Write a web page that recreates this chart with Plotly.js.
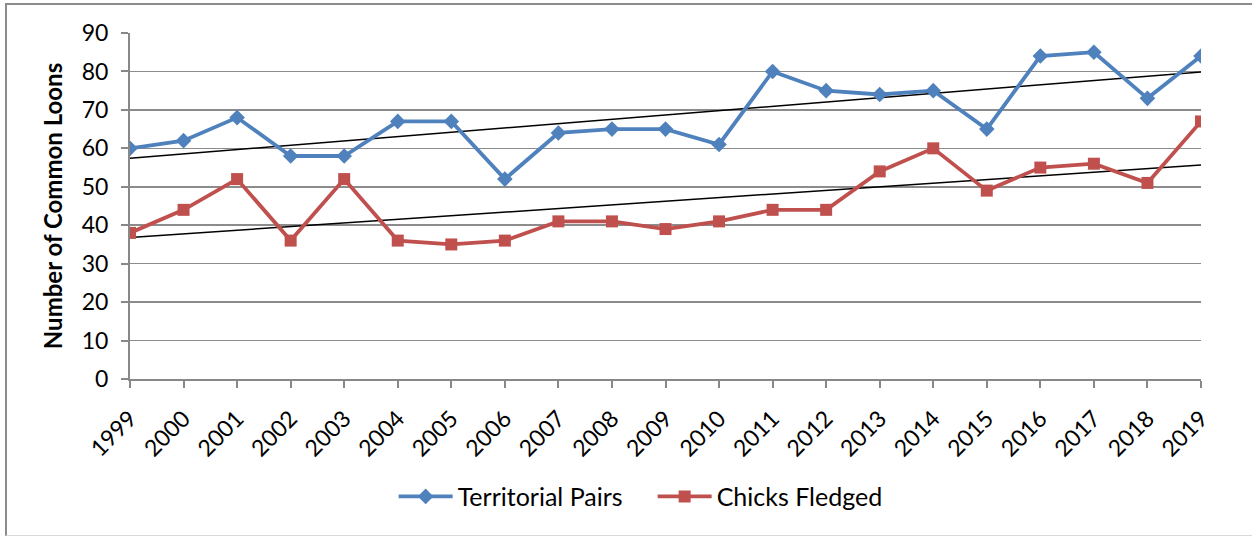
<!DOCTYPE html>
<html>
<head>
<meta charset="utf-8">
<script src="https://cdn.plot.ly/plotly-3.0.1.min.js"></script>
<style>
html,body{margin:0;padding:0;background:#fff;}
#frame{position:absolute;left:5px;top:3px;width:1260px;height:533px;border-top:2px solid #8c8c8c;border-left:2px solid #8c8c8c;border-bottom:1px solid #d9d9d9;box-sizing:border-box;}
#chart{position:absolute;left:0;top:0;width:1252px;height:538px;}
</style>
</head>
<body>
<div id="frame"></div>
<div id="chart"></div>
<script>
const years = [1999,2000,2001,2002,2003,2004,2005,2006,2007,2008,2009,2010,2011,2012,2013,2014,2015,2016,2017,2018,2019];
const territorialPairs = [60,62,68,58,58,67,67,52,64,65,65,61,80,75,74,75,65,84,85,73,84];
const chicksFledged = [38,44,52,36,52,36,35,36,41,41,39,41,44,44,54,60,49,55,56,51,67];
const yTicks = [0,10,20,30,40,50,60,70,80,90];

function linFit(xs, ys){
  const n = xs.length;
  const mx = xs.reduce((a,b)=>a+b,0)/n;
  const my = ys.reduce((a,b)=>a+b,0)/n;
  let sxy=0, sxx=0;
  for(let i=0;i<n;i++){sxy+=(xs[i]-mx)*(ys[i]-my); sxx+=(xs[i]-mx)*(xs[i]-mx);}
  const b = sxy/sxx, a = my - b*mx;
  return xs.map(x=>a+b*x);
}

const idx = years.map((y,i)=>i);
const trendPairs = linFit(idx, territorialPairs);
const trendChicks = linFit(idx, chicksFledged);

const font = "Lato, 'Open Sans', sans-serif";

const traces = [
  {x: years, y: trendPairs, mode:'lines', line:{color:'#000', width:1.5}, showlegend:false, hoverinfo:'skip'},
  {x: years, y: trendChicks, mode:'lines', line:{color:'#000', width:1.5}, showlegend:false, hoverinfo:'skip'},
  {x: years, y: territorialPairs, name:'Territorial Pairs', mode:'lines+markers',
   line:{color:'#4F81BD', width:3.8}, marker:{symbol:'diamond', size:12, color:'#4F81BD'}},
  {x: years, y: chicksFledged, name:'Chicks Fledged', mode:'lines+markers',
   line:{color:'#C0504D', width:3.8}, marker:{symbol:'square', size:12, color:'#C0504D'}}
];

const layout = {
  width:1252, height:538,
  margin:{l:130, r:51, t:33, b:159},
  paper_bgcolor:'rgba(0,0,0,0)', plot_bgcolor:'rgba(0,0,0,0)',
  font:{family:font, size:23, color:'#000'},
  xaxis:{
    range:[1999,2019], tickvals:years, ticktext:years.map(String), tickangle:-45,
    showgrid:false, zeroline:false, showline:true, linecolor:'#888', linewidth:2,
    ticks:'outside', ticklen:7, tickcolor:'#888', tickwidth:2, ticklabelstandoff:8,
    tickfont:{family:font, size:23, color:'#000'}, fixedrange:true
  },
  yaxis:{
    range:[0,90], tickvals:yTicks, showgrid:true, gridcolor:'#8c8c8c', gridwidth:1.5,
    zeroline:false, showline:true, linecolor:'#888', linewidth:2,
    ticks:'outside', ticklen:7, tickcolor:'#888', tickwidth:2, ticklabelstandoff:8,
    tickfont:{family:font, size:23, color:'#000'},
    title:{text:'<b>Number of Common Loons</b>', font:{family:font, size:24, color:'#000'}, standoff:12},
    fixedrange:true
  },
  legend:{orientation:'h', x:0.488, xanchor:'center', y:-0.34, yanchor:'middle',
    font:{family:font, size:25, color:'#000'}, itemwidth:54, tracegroupgap:0,
    entrywidth:190, entrywidthmode:'pixels'},
  showlegend:true
};

Plotly.newPlot('chart', traces, layout, {displayModeBar:false, staticPlot:true});
</script>
</body>
</html>
